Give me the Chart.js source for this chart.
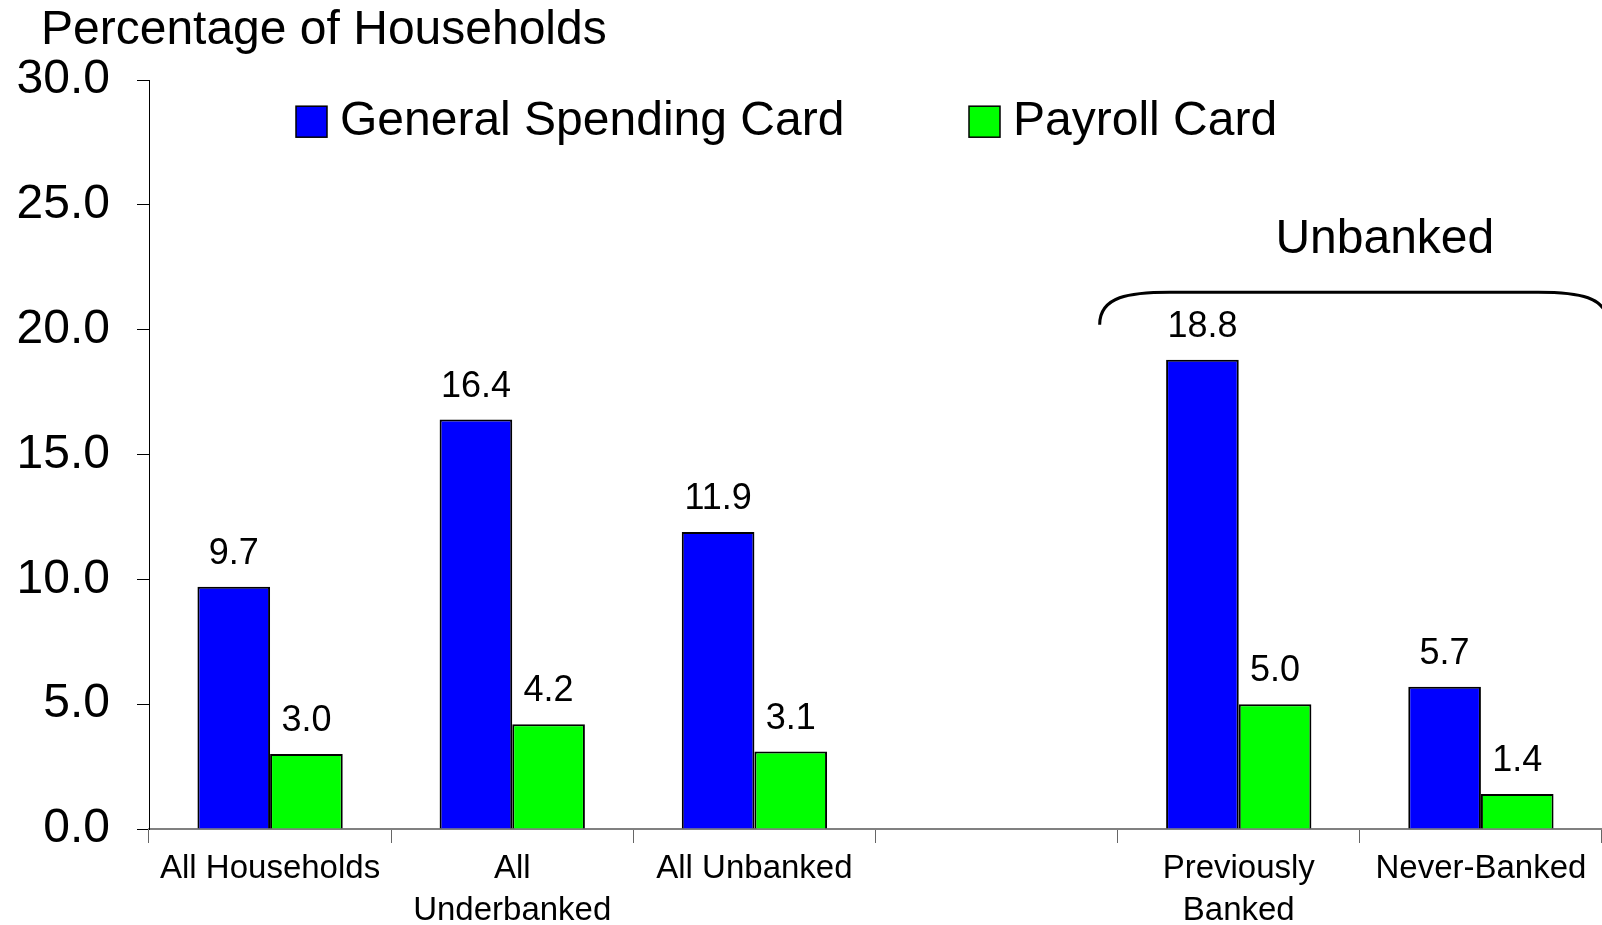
<!DOCTYPE html>
<html>
<head>
<meta charset="utf-8">
<title>Prepaid card use by household banking status</title>
<script src="https://cdn.jsdelivr.net/npm/chart.js@4.4.0/dist/chart.umd.min.js"></script>
<style>
    html, body { margin: 0; padding: 0; background: #fff; }
    #wrap { width: 1602px; height: 925px; }
</style>
</head>
<body>
<div id="wrap"><canvas id="chart" width="1602" height="925"></canvas></div>
<script>
var FONT = '"Liberation Sans", Arial, Helvetica, sans-serif';

var categories = [
    'All Households',
    ['All', 'Underbanked'],
    'All Unbanked',
    '',
    ['Previously', 'Banked'],
    'Never-Banked'
];
var generalSpending = [9.7, 16.4, 11.9, null, 18.8, 5.7];
var payrollCard = [3.0, 4.2, 3.1, null, 5.0, 1.4];
var seriesNames = ['General Spending Card', 'Payroll Card'];
var seriesColors = ['#0000FF', '#00FF00'];
var yTicks = [0, 5, 10, 15, 20, 25, 30];

// value printed above each bar
var barValues = {
    id: 'barValues',
    afterDatasetsDraw: function (chart) {
        var ctx = chart.ctx;
        ctx.save();
        ctx.font = '36px ' + FONT;
        ctx.fillStyle = '#000';
        ctx.textAlign = 'center';
        ctx.textBaseline = 'alphabetic';
        chart.data.datasets.forEach(function (ds, i) {
            chart.getDatasetMeta(i).data.forEach(function (bar, j) {
                if (ds.data[j] === null) {
                    return;
                }
                ctx.fillText(ds.data[j].toFixed(1), bar.x, bar.y - 23);
            });
        });
        ctx.restore();
    }
};

// axis heading, legend and the "Unbanked" brace
var decorations = {
    id: 'decorations',
    afterDraw: function (chart) {
        var ctx = chart.ctx;
        var x = chart.scales.x, y = chart.scales.y;
        var step = (x.right - x.left) / categories.length;
        ctx.save();
        ctx.fillStyle = '#000';
        ctx.font = '48px ' + FONT;
        ctx.textBaseline = 'middle';
        ctx.textAlign = 'left';
        ctx.fillText('Percentage of Households', 41, 31);

        // legend
        var legendX = [296, 969];
        var legendY = y.getPixelForValue(28.35);
        chart.data.datasets.forEach(function (ds, i) {
            ctx.fillStyle = ds.backgroundColor;
            ctx.fillRect(legendX[i], legendY - 15, 31, 31);
            ctx.strokeStyle = '#000';
            ctx.lineWidth = 1.5;
            ctx.strokeRect(legendX[i], legendY - 15, 31, 31);
            ctx.fillStyle = '#000';
            ctx.fillText(ds.label, legendX[i] + 44, legendY + 1);
        });

        // brace over the two unbanked groups
        var left = x.left + 4 * step - 18;
        var right = x.left + 6 * step + 6;
        var top = y.getPixelForValue(21.5);
        var end = y.getPixelForValue(20.2);
        ctx.strokeStyle = '#000';
        ctx.lineWidth = 3;
        ctx.beginPath();
        ctx.moveTo(left, end);
        ctx.bezierCurveTo(left, top + 4, left + 30, top, left + 70, top);
        ctx.lineTo(right - 70, top);
        ctx.bezierCurveTo(right - 30, top, right, top + 4, right, end);
        ctx.stroke();
        ctx.textAlign = 'center';
        ctx.fillText('Unbanked', x.left + 5 * step + 25, y.getPixelForValue(23.6));
        ctx.restore();
    }
};

new Chart(document.getElementById('chart'), {
    type: 'bar',
    data: {
        labels: categories,
        datasets: [{
            label: seriesNames[0],
            data: generalSpending,
            backgroundColor: seriesColors[0],
            borderColor: '#000',
            borderWidth: 2,
            categoryPercentage: 0.6,
            barPercentage: 1.0
        }, {
            label: seriesNames[1],
            data: payrollCard,
            backgroundColor: seriesColors[1],
            borderColor: '#000',
            borderWidth: 2,
            categoryPercentage: 0.6,
            barPercentage: 1.0
        }]
    },
    options: {
        responsive: false,
        animation: false,
        layout: { padding: { top: 80, left: 0, right: 0, bottom: 0 } },
        plugins: {
            legend: { display: false },
            title: { display: false },
            tooltip: { enabled: false }
        },
        scales: {
            x: {
                afterFit: function (scale) { scale.height = 96; },
                grid: {
                    display: true,
                    drawOnChartArea: false,
                    drawTicks: true,
                    tickLength: 14,
                    color: '#666',
                    offset: true
                },
                border: { display: true, color: '#808080', width: 2 },
                ticks: {
                    color: '#000',
                    padding: 5,
                    maxRotation: 0,
                    autoSkip: false,
                    font: { family: FONT, size: 33, lineHeight: 1.28 }
                }
            },
            y: {
                min: 0,
                max: 30,
                afterFit: function (scale) { scale.width = 149; },
                afterBuildTicks: function (scale) {
                    scale.ticks = yTicks.map(function (v) { return { value: v }; });
                },
                grid: {
                    display: true,
                    drawOnChartArea: false,
                    drawTicks: true,
                    tickLength: 12,
                    color: '#000'
                },
                border: { display: true, color: '#000', width: 1 },
                ticks: {
                    color: '#000',
                    padding: 27,
                    font: { family: FONT, size: 48 },
                    callback: function (v) { return v.toFixed(1); }
                }
            }
        }
    },
    plugins: [barValues, decorations]
});
</script>
</body>
</html>
